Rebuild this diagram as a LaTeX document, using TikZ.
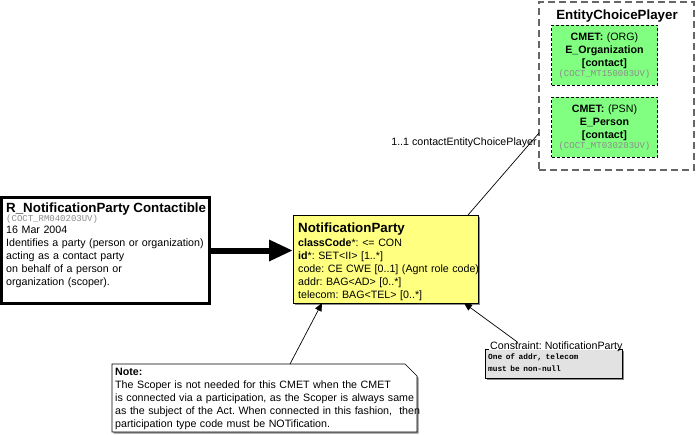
\documentclass[tikz,border=0pt]{standalone}
\usepackage{fontspec}
\setmainfont{Liberation Sans}
\setmonofont{Liberation Mono}
\usetikzlibrary{arrows.meta,shadows}

\definecolor{npyellow}{HTML}{FFFF80}
\definecolor{cmetgreen}{HTML}{80FF80}
\definecolor{consgray}{HTML}{E2E2E2}
\definecolor{codegray}{HTML}{8C8C8C}
\definecolor{ecpgray}{HTML}{666666}

\newcommand{\npbody}{\fontsize{10.67}{13}\selectfont\frenchspacing}
\newcommand{\nphead}{\fontsize{13.33}{15}\selectfont\bfseries}
\newcommand{\npcode}{\fontsize{9}{11}\selectfont\ttfamily\color{codegray}}
\newcommand{\npcons}{\fontsize{7.8}{11}\selectfont\ttfamily\bfseries}

\begin{document}
\begin{tikzpicture}[x=1pt, y=-1pt,
	box/.style={rectangle, inner sep=0, outer sep=0, anchor=north west},
	txt/.style={inner sep=0, anchor=base west, align=left, font=\npbody},
	cmet/.style={box, draw, dash pattern=on 3pt off 2pt, fill=cmetgreen, minimum width=106, minimum height=60},
	cmettxt/.style={inner sep=0, anchor=base, align=center, text width=105, font=\npbody},
	link/.style={draw, line width=0.7pt},
	headarrow/.style={-{Triangle[length=8pt, width=7pt]}},
	boxshadow/.style={drop shadow={shadow xshift=1.5pt, shadow yshift=-1.5pt, fill=black!45, opacity=1}}]
	\useasboundingbox (0,0) rectangle (696,434);

	\node[box, draw=ecpgray, line width=1.5pt, dash pattern=on 7pt off 4pt, minimum width=155, minimum height=168] (ecp) at (539,2) {};
	\node[inner sep=0, anchor=base, font=\nphead] (ecptitle) at (617,19) {EntityChoicePlayer};
	\node[cmet] (org) at (551.5,25) {};
	\node[cmettxt] (orgtxt) at (604.5,40) {\textbf{CMET:} (ORG)\\\textbf{E\_Organization}\\\textbf{[contact]}\\[-3pt]{\npcode (COCT\_MT150003UV)}};
	\node[cmet] (psn) at (551.5,97) {};
	\node[cmettxt] (psntxt) at (604.5,112) {\textbf{CMET:} (PSN)\\\textbf{E\_Person}\\\textbf{[contact]}\\[-3pt]{\npcode (COCT\_MT030203UV)}};

	\node[box, draw, line width=3pt, minimum width=208, minimum height=106] (rnp) at (1.5,197.5) {};
	\node[txt, text width=230] (rnptxt) at (6,212) {{\nphead R\_NotificationParty Contactible}\\[-4pt]{\npcode (COCT\_RM040203UV)}\\[-1pt]16 Mar 2004\\Identifies a party (person or organization)\\acting as a contact party\\on behalf of a person or\\organization (scoper).};

	\node[box, draw, line width=0.8pt, fill=npyellow, boxshadow, minimum width=185, minimum height=88] (np) at (293,215) {};
	\node[txt, text width=230] (nptxt) at (298,232) {{\nphead NotificationParty}\\[1pt]\textbf{classCode}*: <= CON\\\textbf{id}*: SET<II> [1..*]\\code: CE CWE [0..1] (Agnt role code)\\addr: BAG<AD> [0..*]\\telecom: BAG<TEL> [0..*]};

	\node[box, minimum width=305, minimum height=68] (note) at (112,364) {};
	\path[link, fill=white, boxshadow] (note.north west) -- ([xshift=-12pt]note.north east) -- ([yshift=-12pt]note.north east) -- (note.south east) -- (note.south west) -- cycle;
	\node[txt, text width=340] (notetxt) at (115,375) {\textbf{Note:}\\The Scoper is not needed for this CMET when the CMET\\is connected via a participation, as the Scoper is always same\\as the subject of the Act. When connected in this fashion,~ then\\participation type code must be NOTification.};

	\node[box, fill=consgray, boxshadow, minimum width=137, minimum height=29] (cons) at (485,349.5) {};
	\draw[link] ([xshift=4pt]cons.north west) -- (cons.north west) -- (cons.south west) -- (cons.south east) -- (cons.north east) -- ([xshift=-4pt]cons.north east);
	\node[txt] (constitle) at (490,349) {Constraint: NotificationParty};
	\node[txt, text width=130] (constxt) at (488,359.5) {{\npcons One of addr, telecom}\\[-1pt]{\npcons must be non-null}};

	\draw[line width=6pt, -{Triangle[length=24pt, width=20pt]}] (rnp.east) -- (rnp.east -| np.west);
	\draw[link] ([xshift=-10pt]np.north east) -- ([yshift=-47pt]ecp.west) node[pos=1, anchor=north east, inner sep=0, xshift=-2pt, yshift=-4pt, font=\npbody] (rolename) {1..1 contactEntityChoicePlayer};
	\draw[link, headarrow] ([xshift=25.5pt]note.north) -- ([xshift=-63.5pt]np.south);
	\draw[link, headarrow] ([xshift=-35.5pt, yshift=7pt]cons.north) -- ([xshift=78.5pt]np.south);
\end{tikzpicture}
\end{document}
